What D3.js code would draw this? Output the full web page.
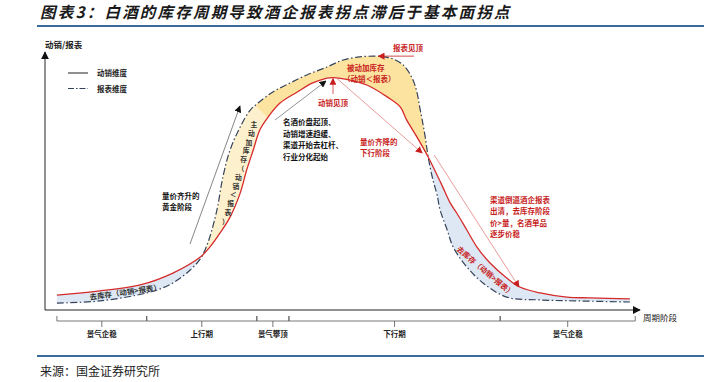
<!DOCTYPE html>
<html><head><meta charset="utf-8">
<script src="https://cdn.jsdelivr.net/npm/d3@7"></script>
<style>
body{margin:0;background:#fff}
svg{display:block}
text{font-family:"Noto Sans CJK SC","Noto Sans",sans-serif}
</style>
</head><body>
<svg id="c" width="704" height="382"></svg>
<script>
// ---- data (cycle phase 0-100, level 0-100) ----
const salesX = [2.0, 9.2, 16.0, 21.5, 26.1, 27.7, 29.4, 31.1, 32.8, 33.9, 35.0, 36.1, 37.5, 39.5, 42.4, 45.0, 47.4, 48.4, 51.3, 54.1, 57.5, 59.7, 60.8, 62.5, 64.4, 66.7, 68.1, 69.2, 70.9, 72.6, 74.8, 77.6, 79.8, 83.2, 87.7, 91.6, 98.3];
const salesY = [5.8, 7.4, 9.7, 14.3, 20.5, 24.4, 29.8, 36.0, 45.3, 54.3, 62.0, 69.8, 74.8, 80.2, 84.5, 88.0, 89.9, 90.1, 89.1, 87.2, 82.6, 78.7, 73.6, 67.1, 59.3, 48.4, 41.5, 37.6, 31.0, 24.4, 18.2, 12.4, 8.9, 6.6, 5.0, 4.7, 4.3];
const reportX = [2.0, 9.2, 17.1, 19.7, 21.8, 24.4, 26.1, 26.9, 27.7, 28.9, 29.9, 31.1, 32.8, 34.5, 35.8, 38.3, 41.2, 44.0, 47.4, 50.1, 52.9, 55.5, 57.1, 58.5, 60.2, 61.7, 62.5, 63.0, 63.4, 63.9, 64.4, 65.2, 65.9, 66.4, 67.6, 68.6, 70.9, 73.6, 77.6, 83.2, 89.9, 98.3];
const reportY = [2.7, 3.5, 6.6, 8.5, 10.9, 15.5, 19.8, 23.3, 28.3, 38.8, 51.6, 62.0, 70.9, 77.5, 80.2, 84.5, 88.0, 91.1, 94.2, 96.9, 98.1, 98.4, 98.1, 97.3, 95.0, 89.9, 84.5, 78.3, 73.6, 67.1, 59.3, 50.4, 44.6, 38.8, 31.0, 24.4, 16.7, 10.5, 5.0, 3.9, 3.5, 3.1];
const crossX = [26.9, 64.4];
const passiveStartX = 36.3;
const phaseLabels = ["景气企稳", "上行期", "景气攀顶", "下行期", "景气企稳"];
const phaseBounds = [2.0, 17.1, 35.6, 41.0, 76.5, 99.2];
const legendLabels = ["动销维度", "报表维度"];
const yAxisLabel = "动销/报表";
const xAxisLabel = "周期阶段";
const titleText = "图表3：白酒的库存周期导致酒企报表拐点滞后于基本面拐点";
const sourceText = "来源：国金证券研究所";

const svg = d3.select("#c");
const x = d3.scaleLinear().domain([0, 100]).range([45, 640]);
const y = d3.scaleLinear().domain([0, 100]).range([310, 52]);

const RED = "#d52a2a", DASH = "#34435a", BLUE = "#dde8f4", YD = "#fde3a0", YL = "#fdf0cc";
const defs = svg.append("defs");
function marker(id, color, size) {
  defs.append("marker").attr("id", id).attr("viewBox", "0 0 10 10").attr("refX", 9).attr("refY", 5)
    .attr("markerWidth", size).attr("markerHeight", size).attr("markerUnits", "userSpaceOnUse")
    .attr("orient", "auto").append("path").attr("d", "M0,0L10,5L0,10Z").attr("fill", color);
}
marker("arrRed", "#c81e1e", 7);
marker("arrBlk", "#111", 7);
marker("arrAxis", "#111", 8);

// title
svg.append("text").attr("x", 40).attr("y", 18).text(titleText)
  .attr("font-size", 15.5).attr("font-weight", 700).attr("font-style", "italic")
  .attr("letter-spacing", 2.2).attr("fill", "#1a1a1a");
svg.append("line").attr("x1", 37).attr("x2", 704).attr("y1", 26).attr("y2", 26).attr("stroke", "#3a6c9b").attr("stroke-width", 2);
svg.append("line").attr("x1", 37).attr("x2", 704).attr("y1", 356).attr("y2", 356).attr("stroke", "#3a6c9b").attr("stroke-width", 2);
svg.append("text").attr("x", 40).attr("y", 376).text(sourceText).attr("font-size", 12).attr("fill", "#222");

const sales = salesX.map((v, i) => [v, salesY[i]]);
const report = reportX.map((v, i) => [v, reportY[i]]);
const lineGen = d3.line().x(d => x(d[0])).y(d => y(d[1])).curve(d3.curveCatmullRom.alpha(0.5));
const bandPath = lineGen(sales) + lineGen(report.slice().reverse()).replace(/^M/, "L") + "Z";

// clip regions
const cx1 = x(crossX[0]), cx2 = x(crossX[1]);
const bx = x(passiveStartX), by = y(77);
defs.append("clipPath").attr("id", "clipBlue").call(c => {
  c.append("rect").attr("x", 0).attr("y", 0).attr("width", cx1).attr("height", 382);
  c.append("rect").attr("x", cx2).attr("y", 0).attr("width", 704 - cx2).attr("height", 382);
});
defs.append("clipPath").attr("id", "clipLight").append("polygon")
  .attr("points", [[cx1, 0], [bx - 80, 0], [bx - 80, by - 80], [bx + 80, by + 80], [bx + 80, 330], [cx1, 330]].join(" "));
defs.append("clipPath").attr("id", "clipDark").append("polygon")
  .attr("points", [[bx - 80, 0], [bx - 80, by - 80], [bx + 80, by + 80], [cx2, by + 80], [cx2, 0]].join(" "));

svg.append("path").attr("d", bandPath).attr("fill", BLUE).attr("clip-path", "url(#clipBlue)");
svg.append("path").attr("d", bandPath).attr("fill", YL).attr("clip-path", "url(#clipLight)");
svg.append("path").attr("d", bandPath).attr("fill", YD).attr("clip-path", "url(#clipDark)");

svg.append("path").attr("d", lineGen(report)).attr("fill", "none").attr("stroke", DASH)
  .attr("stroke-width", 1.2).attr("stroke-dasharray", "7,2.5,1.5,2.5");
svg.append("path").attr("d", lineGen(sales)).attr("fill", "none").attr("stroke", RED).attr("stroke-width", 1.3);

// axes
svg.append("line").attr("x1", x(0)).attr("x2", x(0)).attr("y1", y(0)).attr("y2", y(100))
  .attr("stroke", "#222").attr("stroke-width", 1).attr("marker-end", "url(#arrAxis)");
svg.append("line").attr("x1", x(0)).attr("x2", x(100)).attr("y1", y(0)).attr("y2", y(0))
  .attr("stroke", "#222").attr("stroke-width", 1).attr("marker-end", "url(#arrAxis)");
svg.append("text").attr("x", 45).attr("y", 48).text(yAxisLabel).attr("font-size", 8.5).attr("font-weight", 700).attr("fill", "#222");
svg.append("text").attr("x", 643).attr("y", 321).text(xAxisLabel).attr("font-size", 8.5).attr("fill", "#222");

// legend
const lg = svg.append("g");
legendLabels.forEach((l, i) => {
  const yy = 73 + i * 15.5;
  lg.append("line").attr("x1", 68).attr("x2", 88).attr("y1", yy).attr("y2", yy)
    .attr("stroke", i ? DASH : "#333").attr("stroke-width", 1.1).attr("stroke-dasharray", i ? "6,2,1.5,2" : null);
  lg.append("text").attr("x", 97).attr("y", yy + 3).text(l).attr("font-size", 7.5).attr("font-weight", 700).attr("fill", "#222");
});

// phase brackets
const bg = svg.append("g").attr("stroke", "#555").attr("stroke-width", 0.8).attr("fill", "none");
phaseLabels.forEach((l, i) => {
  const a = x(phaseBounds[i]), b = x(phaseBounds[i + 1]), m = (a + b) / 2;
  bg.append("path").attr("d", `M${a},316V321H${b}V316M${m},321V327`);
  svg.append("text").attr("x", m).attr("y", 337).attr("text-anchor", "middle").text(l)
    .attr("font-size", 7.5).attr("font-weight", 700).attr("fill", "#222");
});

// annotations
function txt(t, xx, yy, color, size) {
  return svg.append("text").attr("x", xx).attr("y", yy).text(t).attr("font-size", size || 7.5)
    .attr("font-weight", 700).attr("fill", color);
}
function arrow(x1, y1, x2, y2, color, mk, w) {
  svg.append("line").attr("x1", x1).attr("y1", y1).attr("x2", x2).attr("y2", y2)
    .attr("stroke", color).attr("stroke-width", w || 0.7).attr("marker-end", `url(#${mk})`);
}
const peakSales = sales.reduce((a, b) => b[1] > a[1] ? b : a);
const peakReport = report.reduce((a, b) => b[1] > a[1] ? b : a);

txt("报表见顶", 393, 51, "#c81e1e");
arrow(414, y(peakReport[1]), x(peakReport[0]) + 3, y(peakReport[1]), "#c81e1e", "arrRed", 0.8);
txt("被动加库存", 347, 71, "#c81e1e");
txt("（动销＜报表）", 343, 82, "#c81e1e");
txt("动销见顶", 318, 106, "#c81e1e");
arrow(x(peakSales[0]), 94, x(peakSales[0]), y(peakSales[1]) + 1, "#e89a9a", "arrRed", 1.6);
arrow(x(peakSales[0]) + 4, y(peakSales[1]) + 1, x(crossX[1]) - 6, 153, "#e07070", "arrRed", 0.7);
arrow(x(crossX[1]) + 6, 155, 519, 287, "#e07070", "arrRed", 0.7);

arrow(275, 120, 326, 81, "#666", "arrBlk", 0.7);
["名酒价盘起顶、", "动销增速趋缓、", "渠道开始去杠杆、", "行业分化起始"].forEach((t, i) => txt(t, 283, 125 + i * 11.7, "#111"));
["量价齐降的", "下行阶段"].forEach((t, i) => txt(t, 360, 145 + i * 10.5, "#c81e1e"));

arrow(190, 244, 240, 106, "#666", "arrBlk", 0.8);
["量价齐升的", "黄金阶段"].forEach((t, i) => txt(t, 162, 199 + i * 10.5, "#111"));

// vertical text in band
Array.from("主动加库存（动销＜报表）").forEach((ch, i) => {
  const xx = 254 - i * 2.6, yy = 127 + i * 8.8;
  const t = svg.append("text").attr("x", xx).attr("y", yy).attr("text-anchor", "middle").text(ch)
    .attr("font-size", 6.8).attr("font-weight", 700).attr("fill", "#333");
});

svg.append("text").attr("transform", "translate(90,300) rotate(-8)").text("去库存（动销>报表）")
  .attr("font-size", 7.5).attr("font-weight", 700).attr("fill", "#333");
svg.append("text").attr("transform", "translate(456,250) rotate(40)").text("去库存（动销>报表）")
  .attr("font-size", 7.5).attr("font-weight", 700).attr("fill", "#c81e1e");

["渠道倒逼酒企报表", "出清，去库存阶段", "价>量，名酒单品", "逐步价稳"].forEach((t, i) => txt(t, 490, 203 + i * 11.3, "#c81e1e"));
</script>
</body></html>
